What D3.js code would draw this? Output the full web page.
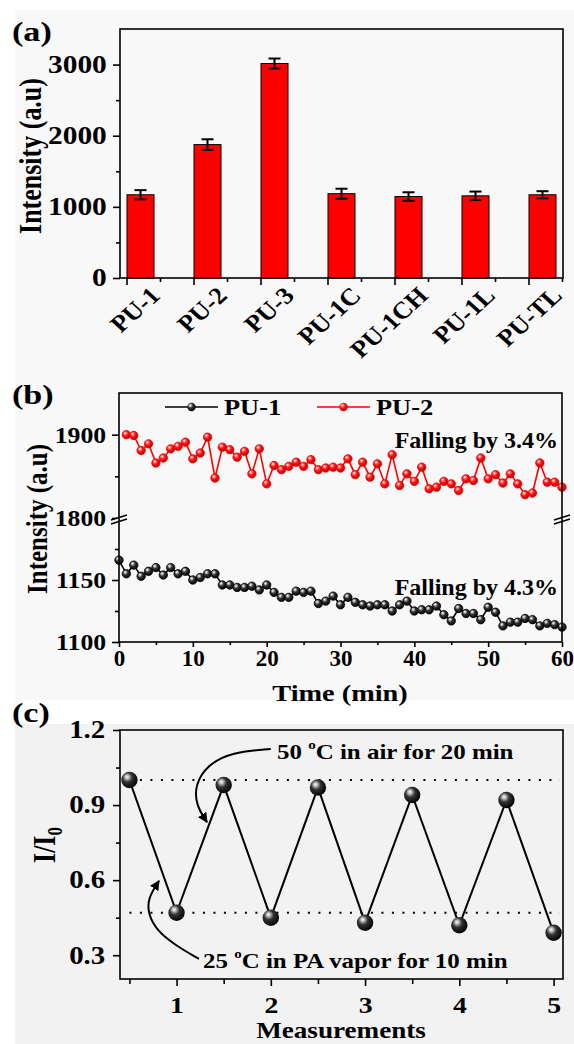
<!DOCTYPE html>
<html lang="en">
<head>
<meta charset="UTF-8">
<title>PU intensity panels</title>
<script src="https://d3js.org/d3.v7.min.js"></script>
<style>
  body { margin: 0; background: #fff; }
  svg { display: block; font-family: "Liberation Serif", "Times New Roman", serif; font-weight: bold; }
  .axis line { stroke: #000; stroke-width: 1.6px; }
  .axis .domain { display: none; }
  .axis text { fill: #000; }
</style>
</head>
<body>
<svg width="574" height="1044"></svg>
<script>
// ---------- panel (a): bar chart
const aCategories = ["PU-1", "PU-2", "PU-3", "PU-1C", "PU-1CH", "PU-1L", "PU-TL"];
const aValues = [1170, 1875, 3015, 1185, 1145, 1155, 1170];
const aErrors = [65, 75, 70, 70, 60, 60, 50];
const aYTicks = [0, 1000, 2000, 3000];
const aYMinor = [500, 1500, 2500];

// ---------- panel (b): intensity vs time (PU-1 from 0 min, PU-2 from 1 min)
const pu1Values = [1166, 1155, 1162, 1153, 1157, 1160, 1154, 1160, 1155, 1157,
  1150, 1152, 1155, 1155, 1146, 1146, 1144, 1144, 1145, 1142,
  1146, 1140, 1136, 1136, 1141, 1140, 1141, 1131, 1133, 1137,
  1130, 1136, 1132, 1130, 1129, 1130, 1130, 1125, 1130, 1133,
  1125, 1126, 1126, 1129, 1122, 1117, 1127, 1123, 1123, 1118,
  1128, 1124, 1113, 1116, 1116, 1119, 1118, 1113, 1115, 1114, 1112];
const pu2Values = [1900, 1899, 1881, 1889, 1866, 1872, 1883, 1886, 1891, 1871,
  1878, 1897, 1848, 1885, 1882, 1873, 1880, 1853, 1883, 1841,
  1863, 1858, 1862, 1867, 1862, 1870, 1858, 1860, 1861, 1860,
  1871, 1852, 1867, 1849, 1865, 1841, 1876, 1839, 1853, 1844,
  1861, 1835, 1837, 1844, 1841, 1833, 1847, 1845, 1872, 1847,
  1852, 1842, 1853, 1841, 1828, 1830, 1866, 1843, 1843, 1837];
const bXTicks = [0, 10, 20, 30, 40, 50, 60];
const bXMinor = [5, 15, 25, 35, 45, 55];
const bLowTicks = [1100, 1150];
const bLowMinor = [1125, 1175];
const bHighTicks = [1800, 1900];
const bHighMinor = [1850];

// ---------- panel (c): cycling
const cMeasure = [0.5, 1, 1.5, 2, 2.5, 3, 3.5, 4, 4.5, 5];
const cRatio = [1.0, 0.47, 0.98, 0.45, 0.97, 0.43, 0.94, 0.42, 0.92, 0.39];
const cXTicks = [1, 2, 3, 4, 5];
const cXMinor = [0.5, 1.5, 2.5, 3.5, 4.5];
const cYTicks = [0.3, 0.6, 0.9, 1.2];
const cYMinor = [0.45, 0.75, 1.05];
const cRefLines = [1.0, 0.47];
// curved annotation arrows, in data units (measurement, I/I0)
const arrowHeat = [[2.0, 1.124], [1.588, 1.112], [1.323, 1.06], [1.196, 0.98], [1.206, 0.9], [1.323, 0.832]];
const arrowVapor = [[1.238, 0.285], [0.983, 0.341], [0.793, 0.397], [0.697, 0.465], [0.697, 0.529], [0.814, 0.597]];

const SX = 1.18; // the source figure's text is a bit wide

const svg = d3.select("svg");
const defs = svg.append("defs");

function ballGradient(id, stops) {
  const g = defs.append("radialGradient").attr("id", id)
    .attr("cx", "40%").attr("cy", "38%").attr("r", "65%")
    .attr("fx", "35%").attr("fy", "30%");
  stops.forEach(s => g.append("stop").attr("offset", s[0]).attr("stop-color", s[1]));
}
ballGradient("ballBlack", [["0%", "#ffffff"], ["18%", "#bbbbbb"], ["45%", "#333333"], ["100%", "#000000"]]);
ballGradient("ballRed", [["0%", "#ffffff"], ["22%", "#ff8080"], ["50%", "#ff1010"], ["100%", "#c00000"]]);

defs.append("marker").attr("id", "arrowHead")
  .attr("viewBox", "0 0 10 10").attr("refX", 9).attr("refY", 5)
  .attr("markerWidth", 5).attr("markerHeight", 5).attr("markerUnits", "strokeWidth")
  .attr("orient", "auto")
  .append("path").attr("d", "M0,0 L10,5 L0,10 z").attr("fill", "#000");

// light paper tone behind the panels
svg.append("rect").attr("x", 15).attr("y", 10).attr("width", 559).attr("height", 690).attr("fill", "#f8f8f8");
svg.append("rect").attr("x", 15).attr("y", 724).attr("width", 559).attr("height", 320).attr("fill", "#f2f2f2");

function label(parent, x, y, str, size, opts = {}) {
  return parent.append("text")
    .attr("transform", `translate(${x},${y}) scale(${opts.sx ?? SX},1)` + (opts.rotate ? ` rotate(${opts.rotate})` : ""))
    .attr("font-size", size)
    .attr("text-anchor", opts.anchor || "start")
    .attr("fill", opts.color || "#000")
    .text(str);
}

function styleAxis(g, size, sx = SX) {
  g.attr("class", "axis").attr("font-family", null).attr("font-size", size);
  g.selectAll("text").attr("transform", `scale(${sx},1)`);
  return g;
}

function frame(box) {
  svg.append("rect")
    .attr("x", box.left).attr("y", box.top)
    .attr("width", box.right - box.left).attr("height", box.bottom - box.top)
    .attr("fill", "none").attr("stroke", "#000").attr("stroke-width", 1.6);
}

// ================= panel (a)
const aBox = { left: 120, right: 563, top: 29, bottom: 278 };
const xA = d3.scaleBand().domain(aCategories)
  .range([aBox.left, aBox.right]).paddingInner(0.597).paddingOuter(0.1045);
const yA = d3.scaleLinear().domain([0, 3500]).range([aBox.bottom, aBox.top]);

const gA = svg.append("g");
gA.selectAll(".bar").data(aCategories).join("rect")
  .attr("x", d => xA(d)).attr("width", xA.bandwidth())
  .attr("y", (d, i) => yA(aValues[i]))
  .attr("height", (d, i) => yA(0) - yA(aValues[i]))
  .attr("fill", "#ff0000").attr("stroke", "#000").attr("stroke-width", 1);

const err = gA.selectAll(".err").data(aCategories).join("g")
  .attr("transform", d => `translate(${xA(d) + xA.bandwidth() / 2},0)`);
err.append("line").attr("y1", (d, i) => yA(aValues[i] - aErrors[i])).attr("y2", (d, i) => yA(aValues[i] + aErrors[i]));
err.append("line").attr("x1", -6).attr("x2", 6).attr("y1", (d, i) => yA(aValues[i] + aErrors[i])).attr("y2", (d, i) => yA(aValues[i] + aErrors[i]));
err.append("line").attr("x1", -6).attr("x2", 6).attr("y1", (d, i) => yA(aValues[i] - aErrors[i])).attr("y2", (d, i) => yA(aValues[i] - aErrors[i]));
err.selectAll("line").attr("stroke", "#000").attr("stroke-width", 2);

styleAxis(gA.append("g").attr("transform", `translate(${aBox.left},0)`)
  .call(d3.axisLeft(yA).tickValues(aYTicks).tickFormat(d3.format("d")).tickSize(7).tickPadding(4)), 24.5, 1.2);
styleAxis(gA.append("g").attr("transform", `translate(${aBox.left},0)`)
  .call(d3.axisLeft(yA).tickValues(aYMinor).tickFormat("").tickSize(4)), 24);

// category ticks: long at bar start, short between
gA.selectAll(".xt").data(aCategories).join("line")
  .attr("x1", d => xA(d)).attr("x2", d => xA(d))
  .attr("y1", aBox.bottom).attr("y2", aBox.bottom + 7);
gA.selectAll(".xm").data(aCategories).join("line")
  .attr("x1", d => xA(d) + xA.step() / 2).attr("x2", d => xA(d) + xA.step() / 2)
  .attr("y1", aBox.bottom).attr("y2", aBox.bottom + 4);
gA.selectAll("line:not([stroke])").attr("stroke", "#000").attr("stroke-width", 1.6);

gA.selectAll(".xlab").data(aCategories).join("text")
  .attr("transform", d => `translate(${xA(d) + xA.bandwidth() / 2 + 21},${aBox.bottom + 19}) scale(1.1,1) rotate(-45)`)
  .attr("text-anchor", "end").attr("font-size", 24).text(d => d);

frame(aBox);
label(svg, 12, 41, "(a)", 28, { sx: 1.22 });
label(svg, 41, 156, "Intensity (a.u)", 26, { anchor: "middle", rotate: -90 });

// ================= panel (b)
const bBox = { left: 119, right: 562, top: 393, bottom: 642 };
const breakY = 518;
const xB = d3.scaleLinear().domain([0, 60]).range([bBox.left, bBox.right]);
const yLow = d3.scaleLinear().domain([1100, 1200]).range([bBox.bottom, breakY]);
const yHigh = d3.scaleLinear().domain([1800, 1950]).range([breakY, bBox.top]);

const gB = svg.append("g");
styleAxis(gB.append("g").attr("transform", `translate(0,${bBox.bottom})`)
  .call(d3.axisBottom(xB).tickValues(bXTicks).tickFormat(d3.format("d")).tickSize(5).tickPadding(3)), 23, 1.0);
styleAxis(gB.append("g").attr("transform", `translate(0,${bBox.bottom})`)
  .call(d3.axisBottom(xB).tickValues(bXMinor).tickFormat("").tickSize(3)), 23);
styleAxis(gB.append("g").attr("transform", `translate(${bBox.left},0)`)
  .call(d3.axisLeft(yLow).tickValues(bLowTicks).tickFormat(d3.format("d")).tickSize(7).tickPadding(4.5)), 23, 1.12);
styleAxis(gB.append("g").attr("transform", `translate(${bBox.left},0)`)
  .call(d3.axisLeft(yLow).tickValues(bLowMinor).tickFormat("").tickSize(4)), 23);
styleAxis(gB.append("g").attr("transform", `translate(${bBox.left},0)`)
  .call(d3.axisLeft(yHigh).tickValues(bHighTicks).tickFormat(d3.format("d")).tickSize(7).tickPadding(4.5)), 23, 1.12);
styleAxis(gB.append("g").attr("transform", `translate(${bBox.left},0)`)
  .call(d3.axisLeft(yHigh).tickValues(bHighMinor).tickFormat("").tickSize(4)), 23);
frame(bBox);

// axis break marks on both sides
[bBox.left, bBox.right].forEach(x0 => {
  gB.append("path")
    .attr("d", `M${x0 - 8},${breakY + 2} L${x0 + 8},${breakY - 3} L${x0 + 8},${breakY + 1} L${x0 - 8},${breakY + 6} Z`)
    .attr("fill", "#f8f8f8");
  [breakY + 2, breakY + 6].forEach(y0 => {
    gB.append("line").attr("x1", x0 - 8).attr("y1", y0).attr("x2", x0 + 8).attr("y2", y0 - 5)
      .attr("stroke", "#000").attr("stroke-width", 1.5);
  });
});

function series(values, t0, scaleY, color, grad, edge) {
  const pts = values.map((v, i) => [xB(t0 + i), scaleY(v)]);
  gB.append("path").attr("d", d3.line()(pts))
    .attr("fill", "none").attr("stroke", color).attr("stroke-width", 1.6);
  gB.selectAll(null).data(pts).join("circle")
    .attr("cx", d => d[0]).attr("cy", d => d[1]).attr("r", 4.2)
    .attr("fill", `url(#${grad})`).attr("stroke", edge).attr("stroke-width", 0.8);
}
series(pu1Values, 0, yLow, "#000", "ballBlack", "#000");
series(pu2Values, 1, yHigh, "#ff0000", "ballRed", "#e00000");

// legend
[["PU-1", "#000", "ballBlack", 165], ["PU-2", "#ff0000", "ballRed", 317]].forEach(([name, color, grad, x0]) => {
  gB.append("line").attr("x1", x0).attr("x2", x0 + 53).attr("y1", 407).attr("y2", 407)
    .attr("stroke", color).attr("stroke-width", 1.6);
  gB.append("circle").attr("cx", x0 + 26.5).attr("cy", 407).attr("r", 4.2).attr("fill", `url(#${grad})`);
  label(gB, x0 + 59, 415, name, 24, { sx: 1.1 });
});

label(gB, 558, 448, "Falling by 3.4%", 24, { anchor: "end", sx: 1.0 });
label(gB, 558, 595, "Falling by 4.3%", 24, { anchor: "end", sx: 1.0 });

label(svg, 340, 701, "Time (min)", 24, { anchor: "middle" });
label(svg, 12, 404, "(b)", 28, { sx: 1.22 });
label(svg, 47, 519, "Intensity (a.u)", 25, { anchor: "middle", rotate: -90 });

// ================= panel (c)
const cBox = { left: 120, right: 563, top: 730, bottom: 979 };
const xC = d3.scaleLinear().domain([0.4, 5.1]).range([cBox.left, cBox.right]);
const yC = d3.scaleLinear().domain([0.205, 1.2]).range([cBox.bottom, cBox.top]);

const gC = svg.append("g");
styleAxis(gC.append("g").attr("transform", `translate(0,${cBox.bottom})`)
  .call(d3.axisBottom(xC).tickValues(cXTicks).tickFormat(d3.format("d")).tickSize(7).tickPadding(10)), 23.5);
styleAxis(gC.append("g").attr("transform", `translate(0,${cBox.bottom})`)
  .call(d3.axisBottom(xC).tickValues(cXMinor).tickFormat("").tickSize(5)), 23.5);
styleAxis(gC.append("g").attr("transform", `translate(${cBox.left},0)`)
  .call(d3.axisLeft(yC).tickValues(cYTicks).tickFormat(d3.format(".1f")).tickSize(7).tickPadding(5.5)), 24.5);
styleAxis(gC.append("g").attr("transform", `translate(${cBox.left},0)`)
  .call(d3.axisLeft(yC).tickValues(cYMinor).tickFormat("").tickSize(4)), 24);
frame(cBox);

gC.selectAll(".ref").data(cRefLines).join("line")
  .attr("x1", xC(0.5)).attr("x2", cBox.right - 3)
  .attr("y1", d => yC(d)).attr("y2", d => yC(d))
  .attr("stroke", "#000").attr("stroke-width", 2).attr("stroke-dasharray", "2,8.5");

const cPts = cMeasure.map((m, i) => [xC(m), yC(cRatio[i])]);
gC.append("path").attr("d", d3.line()(cPts))
  .attr("fill", "none").attr("stroke", "#000").attr("stroke-width", 2);
gC.selectAll(".ball").data(cPts).join("circle")
  .attr("cx", d => d[0]).attr("cy", d => d[1]).attr("r", 8.2)
  .attr("fill", "url(#ballBlack)");

const arrowLine = d3.line().x(d => xC(d[0])).y(d => yC(d[1])).curve(d3.curveBasis);
[arrowHeat, arrowVapor].forEach(a => {
  gC.append("path").attr("d", arrowLine(a))
    .attr("fill", "none").attr("stroke", "#000").attr("stroke-width", 2)
    .attr("marker-end", "url(#arrowHead)");
});

function degreeText(x, y, pre, post) {
  const t = gC.append("text")
    .attr("transform", `translate(${x},${y}) scale(1.16,1)`)
    .attr("font-size", 21.5);
  t.append("tspan").text(pre + " ");
  t.append("tspan").attr("font-size", 13).attr("dy", -10).text("o");
  t.append("tspan").attr("dy", 10).text(post);
}
degreeText(277, 759, "50", "C in air for 20 min");
degreeText(203, 968, "25", "C in PA vapor for 10 min");

const yTitle = label(svg, 55, 845, "I/I", 26, { anchor: "middle", rotate: -90 });
yTitle.append("tspan").attr("font-size", 17).attr("dy", 6).text("0");

label(svg, 341, 1038, "Measurements", 23, { anchor: "middle" });
label(svg, 12, 722, "(c)", 28, { sx: 1.22 });
</script>
</body>
</html>
